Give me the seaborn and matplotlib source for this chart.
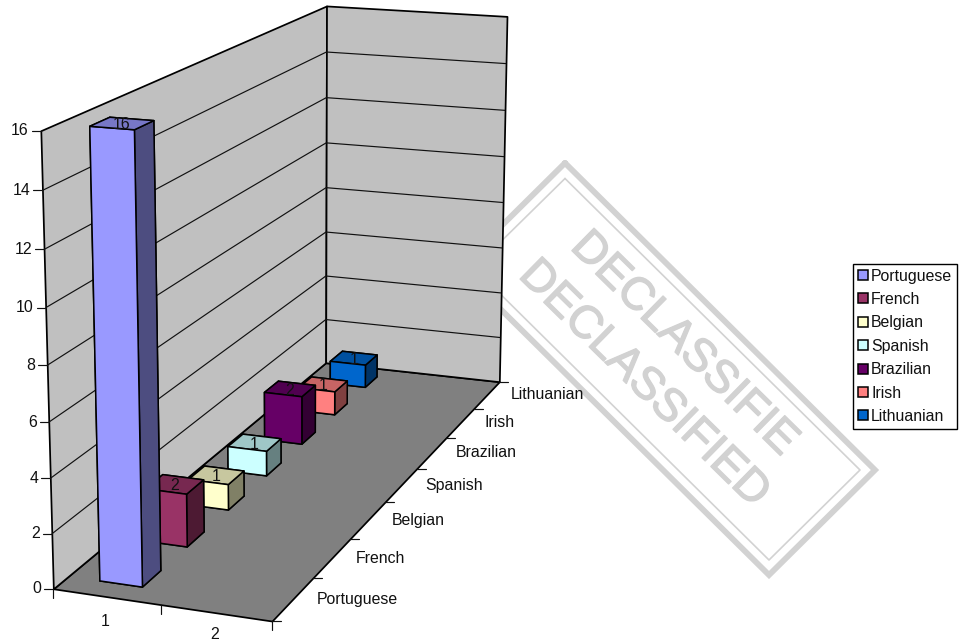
import numpy as np
import pandas as pd
import seaborn as sns
import matplotlib
matplotlib.use("Agg")
import matplotlib.pyplot as plt
import matplotlib.patheffects as pe
from matplotlib.patches import Patch
from mpl_toolkits.mplot3d.art3d import Poly3DCollection, Line3DCollection

nationalities = ["Portuguese", "French", "Belgian", "Spanish", "Brazilian", "Irish", "Lithuanian"]
counts = [16, 2, 1, 1, 2, 1, 1]
series_colors = ["#9999FF", "#993366", "#FFFFCC", "#CCFFFF", "#660066", "#FF8080", "#0066CC"]
x_tick_labels = ["1", "2"]
z_ticks = [0, 2, 4, 6, 8, 10, 12, 14, 16]

df = pd.DataFrame({"nationality": nationalities, "count": counts})

W, H = 964, 644
sns.set_theme(style="white", rc={"axes.grid": False})
plt.rcParams["font.family"] = ["Liberation Sans", "DejaVu Sans"]
FS = 11.4
TEXT = "#111111"
palette = sns.color_palette(series_colors)

fig = plt.figure(figsize=(W / 100, H / 100), dpi=100, facecolor="white")

# Layer 1: the faded stamp behind the chart, in pixel coordinates
bg = fig.add_axes([0, 0, 1, 1], zorder=0)
bg.set_xlim(0, W)
bg.set_ylim(H, 0)
bg.axis("off")
STAMP = "#d2d2d2"
outer = np.array([[565, 163], [875, 470], [769, 575], [459, 268], [565, 163]], float)
bg.plot(outer[:, 0], outer[:, 1], color=STAMP, lw=4.2, solid_joinstyle="miter")
inner = np.array([[565, 178.5], [860, 470], [769, 560], [474, 268], [565, 178.5]], float)
bg.plot(inner[:, 0], inner[:, 1], color=STAMP, lw=1.2)
stamp_stroke = [pe.withStroke(linewidth=1.0, foreground=STAMP)]
bg.text(684, 344, "DECLASSIFIE", rotation=-44.5, rotation_mode="anchor", ha="center", va="center",
        fontsize=33, color=STAMP, path_effects=stamp_stroke)
bg.text(644, 384, "DECLASSIFIED", rotation=-44.5, rotation_mode="anchor", ha="center", va="center",
        fontsize=33, color=STAMP, path_effects=stamp_stroke)

# Layer 2: the 3D scene, with a perspective camera solved from reference points on the box
ax = fig.add_axes([0, 0, 1, 1], projection="3d", computed_zorder=False, zorder=1)
ax.patch.set_alpha(0)
ax.set_axis_off()
ax.apply_aspect = lambda position=None: None
ax.set_position([0, 0, 1, 1])

box = np.array([
    [0, 0, 0, 53, 589], [1, 0, 0, 161, 605], [2, 0, 0, 272, 621],
    [2, 1, 0, 312.7, 577], [2, 2, 0, 350.7, 539], [2, 3, 0, 384, 502.5],
    [2, 4, 0, 416.7, 469], [2, 5, 0, 446.7, 437.7], [2, 6, 0, 474, 409],
    [2, 7, 0, 498.5, 382], [0, 7, 0, 326, 362], [0, 0, 16, 41, 131],
    [0, 0, 8, 47, 365], [0, 7, 16, 326.5, 6], [0, 7, 8, 326, 188], [2, 7, 16, 507, 16],
], float)


def solve_camera(points):
    rows, rhs = [], []
    for x, y, z, u, v in points:
        rows.append([x, y, z, 1, 0, 0, 0, 0, -u * x, -u * y, -u * z])
        rows.append([0, 0, 0, 0, x, y, z, 1, -v * x, -v * y, -v * z])
        rhs += [u, v]
    sol = np.linalg.lstsq(np.array(rows), np.array(rhs), rcond=None)[0]
    return np.append(sol, 1.0).reshape(3, 4)


camera = solve_camera(box)


def project(x, y, z):
    p = camera @ np.array([x, y, z, 1.0])
    return p[0] / p[2], p[1] / p[2]


# Convert the pixel-space camera into the 4x4 matrix mplot3d expects
ax.set_xlim(0, 2)
ax.set_ylim(0, 7)
ax.set_zlim(0, 16)
to_data = ax.transData.inverted().get_matrix()
flip = np.array([[1, 0, 0], [0, -1, H], [0, 0, 1]], float)
xyw = to_data @ flip @ camera
depth = np.array([-0.02, 0.1, -0.005, 1.0])
proj = np.array([xyw[0], xyw[1], depth, xyw[2]])
ax.get_proj = lambda: proj

walls = [
    ([[0, 0, 0], [2, 0, 0], [2, 7, 0], [0, 7, 0]], "#808080"),
    ([[0, 0, 0], [0, 7, 0], [0, 7, 16], [0, 0, 16]], "#C0C0C0"),
    ([[0, 7, 0], [2, 7, 0], [2, 7, 16], [0, 7, 16]], "#C0C0C0"),
]
for verts, colour in walls:
    ax.add_collection3d(Poly3DCollection([verts], facecolors=colour, edgecolors="black",
                                         linewidths=1.25, zorder=1))

grid = [[(0, 0, level), (0, 7, level), (2, 7, level)] for level in z_ticks[1:-1]]
ax.add_collection3d(Line3DCollection(grid, colors="#111111", linewidths=0.85, zorder=2))

SHADE_TOP, SHADE_SIDE = 0.78, 0.5
n = len(df)
for i in range(n - 1, -1, -1):
    rgb = np.array(palette[i])
    face = tuple(rgb)
    top = tuple(rgb * SHADE_TOP)
    side = tuple(rgb * SHADE_SIDE)
    # face order used by bar3d: bottom, top, front, back, left, right
    ax.bar3d(0.3, i + 0.3, 0, 0.4, 0.4, df["count"][i],
             color=[side, top, face, side, side, side],
             edgecolor="black", linewidth=1.1, shade=False, zorder=10 + n - i)

# Layer 3: ticks and text, placed at projected positions
fg = fig.add_axes([0, 0, 1, 1], zorder=2)
fg.set_xlim(0, W)
fg.set_ylim(H, 0)
fg.axis("off")
TICK = dict(color="#111111", lw=0.85)
TICK_LEN = 9

for level in z_ticks:
    px, py = project(0, 0, level)
    fg.plot([px - TICK_LEN, px], [py, py], **TICK)
    fg.text(px - TICK_LEN - 3, py, str(level), ha="right", va="center", fontsize=FS, color=TEXT)

for pos in range(len(x_tick_labels) + 1):
    px, py = project(pos, 0, 0)
    fg.plot([px, px], [py, py + TICK_LEN], **TICK)
for pos, label in enumerate(x_tick_labels):
    px, py = project(pos + 0.5, 0, 0)
    fg.text(px - 1, py + 25 - 3.5 * pos, label, ha="center", va="center", fontsize=FS, color=TEXT)

for pos in range(n + 1):
    px, py = project(2, pos, 0)
    fg.plot([px, px + TICK_LEN], [py, py], **TICK)
for pos, label in enumerate(nationalities):
    px, py = project(2, pos + 0.5, 0)
    fg.text(px + 24, py, label, ha="left", va="center", fontsize=FS, color=TEXT)

for i, value in enumerate(counts):
    px, py = project(0.5, i + 0.5, value)
    fg.text(px, py + 1.5, str(value), ha="center", va="center", fontsize=FS, color=TEXT)

handles = [Patch(facecolor=c, edgecolor="black", linewidth=1.1) for c in series_colors]
fig.legend(handles, nationalities, loc="upper left", bbox_to_anchor=(853 / W, 1 - 263.5 / H),
           borderaxespad=0, fontsize=FS, frameon=True, fancybox=False, framealpha=1,
           edgecolor="black", handlelength=0.6, handleheight=0.6, handletextpad=0.22,
           labelspacing=0.53, borderpad=0.32, labelcolor=TEXT).set_zorder(5)

fig.savefig("out.png", dpi=100, facecolor="white")
